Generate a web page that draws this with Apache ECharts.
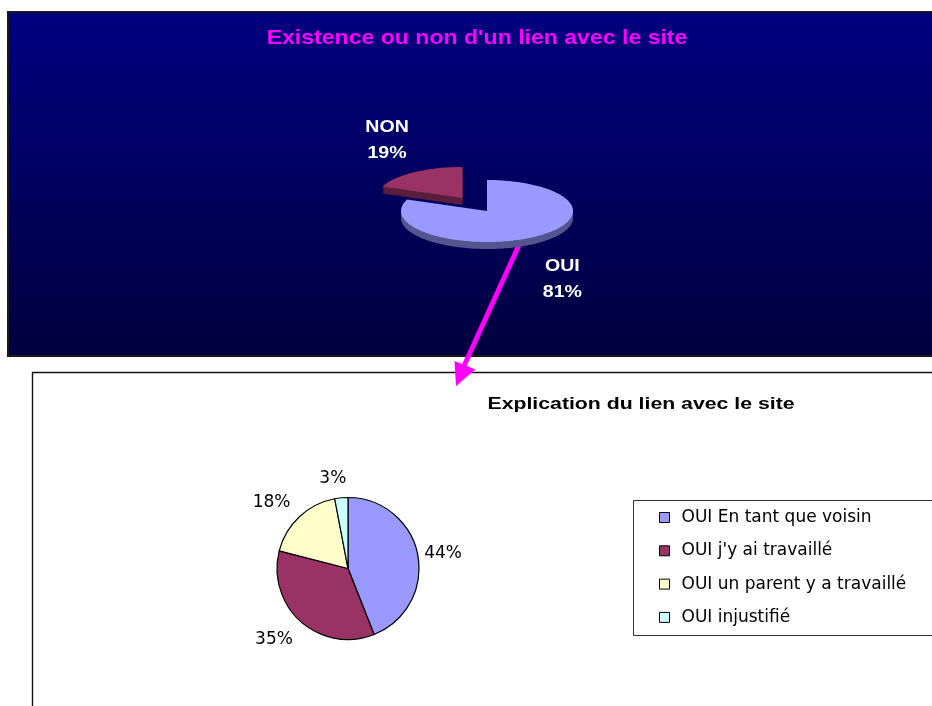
<!DOCTYPE html>
<html>
<head>
<meta charset="utf-8">
<script src="https://cdn.jsdelivr.net/npm/echarts@6/dist/echarts.min.js"></script>
<style>
  html, body { margin: 0; padding: 0; background: #ffffff; overflow: hidden; }
  #chart { width: 932px; height: 706px; }
</style>
</head>
<body>
<div id="chart"></div>
<script>
// Panel 1: is there a link with the site?
const topTitle = "Existence ou non d'un lien avec le site";
const topLabels = ['OUI', 'NON'];
const topValues = [81, 19];

// Panel 2: what kind of link, among the "OUI" answers
const bottomTitle = 'Explication du lien avec le site';
const bottomLabels = [
  'OUI En tant que voisin',
  "OUI j'y ai travaillé",
  'OUI un parent y a travaillé',
  'OUI injustifié'
];
const bottomValues = [44, 35, 18, 3];

// Styling
const topColors = ['#9999FF', '#993366'];
const topSideColors = ['#55558F', '#5A1F3D'];
const bottomColors = ['#9999FF', '#993366', '#FFFFCC', '#CCFFFF'];
const explodedSlice = 'NON';

// Geometry of the tilted pie (ellipse radii, extrusion depth, explode ratio)
const PIE3D = { cx: 487, cy: 211, rx: 86, ry: 31, depth: 7, explode: 0.51, labelRx: 134, labelRy: 76, labelDy: 5 };
// Geometry of the flat pie and where its labels sit
const PIE2D = { cx: 348, cy: 568.5, r: 71, labelR: 84, labelDx: -6, labelDy: 2 };

const sum = arr => arr.reduce((a, b) => a + b, 0);

// Draws one slice of the tilted pie: a stack of darker copies for the thickness,
// the lit top face, and the "name / percent" label.
function renderTiltedSlice(params, api) {
  const i = params.dataIndex;
  const total = sum(topValues);
  let before = 0;
  for (let j = 0; j < i; j++) before += topValues[j];
  const value = api.value(0);
  const a0 = before / total * 2 * Math.PI;
  const a1 = (before + value) / total * 2 * Math.PI;
  const mid = (a0 + a1) / 2;
  const k = topLabels[i] === explodedSlice ? PIE3D.explode : 0;
  const ox = PIE3D.cx + Math.sin(mid) * k * PIE3D.rx;
  const oy = PIE3D.cy - Math.cos(mid) * k * PIE3D.ry;

  const pts = [[ox, oy]];
  const steps = Math.max(8, Math.ceil((a1 - a0) / 0.03));
  for (let s = 0; s <= steps; s++) {
    const a = a0 + (a1 - a0) * s / steps;
    pts.push([ox + Math.sin(a) * PIE3D.rx, oy - Math.cos(a) * PIE3D.ry]);
  }

  const base = topLabels[i] === explodedSlice ? 0 : 20;
  const children = [];
  for (let d = PIE3D.depth; d >= 1; d--) {
    children.push({
      type: 'polygon',
      z2: base,
      shape: { points: pts.map(p => [p[0], p[1] + d]) },
      style: { fill: topSideColors[i] }
    });
  }
  children.push({
    type: 'polygon',
    z2: base + 1,
    shape: { points: pts },
    style: { fill: topColors[i] }
  });
  const pct = Math.round(value / total * 100);
  children.push({
    type: 'text',
    z2: 40,
    x: ox + Math.sin(mid) * PIE3D.labelRx,
    y: oy - Math.cos(mid) * PIE3D.labelRy + PIE3D.labelDy,
    scaleX: 1.15,
    style: {
      text: topLabels[i] + '\n' + pct + '%',
      fill: '#ffffff',
      font: 'bold 17px "Liberation Sans", Arial, sans-serif',
      align: 'center',
      verticalAlign: 'middle',
      lineHeight: 26
    }
  });
  return { type: 'group', children };
}

// Places the flat pie labels just outside each slice, along its mid angle.
function bottomLabelLayout(p) {
  const total = sum(bottomValues);
  let before = 0;
  for (let j = 0; j < p.dataIndex; j++) before += bottomValues[j];
  const mid = (before + bottomValues[p.dataIndex] / 2) / total * 2 * Math.PI;
  const dx = Math.sin(mid);
  const dy = -Math.cos(mid);
  return {
    x: PIE2D.cx + PIE2D.labelDx + dx * PIE2D.labelR + dx * p.labelRect.width / 2,
    y: PIE2D.cy + PIE2D.labelDy + dy * PIE2D.labelR + dy * p.labelRect.height / 2,
    align: 'center',
    verticalAlign: 'middle'
  };
}

const chart = echarts.init(document.getElementById('chart'), null, { renderer: 'canvas' });

chart.setOption({
  backgroundColor: '#ffffff',
  animation: false,
  graphic: [
    // dark upper panel
    {
      type: 'rect',
      z: 0,
      shape: { x: 8, y: 12, width: 940, height: 344 },
      style: {
        fill: {
          type: 'linear', x: 0, y: 0, x2: 0, y2: 1,
          colorStops: [
            { offset: 0, color: '#000080' },
            { offset: 1, color: '#00003E' }
          ]
        },
        stroke: '#1a1a1a',
        lineWidth: 2
      }
    },
    {
      type: 'text',
      z: 1,
      x: 477,
      y: 38,
      scaleX: 1.125,
      style: {
        text: topTitle,
        fill: '#FF00FF',
        font: 'bold 20.5px "Liberation Sans", Arial, sans-serif',
        align: 'center',
        verticalAlign: 'middle'
      }
    },
    // white lower panel
    {
      type: 'rect',
      z: 0,
      shape: { x: 32.5, y: 372.5, width: 1000, height: 400 },
      style: { fill: '#ffffff', stroke: '#111111', lineWidth: 1.4 }
    },
    // arrow from the OUI slice down to the lower panel
    {
      type: 'group',
      z: 5,
      children: [
        {
          type: 'line',
          shape: { x1: 519, y1: 245, x2: 464, y2: 366 },
          style: { stroke: '#FF00FF', lineWidth: 5 }
        },
        {
          type: 'polygon',
          shape: { points: [[454.5, 361], [475.5, 369.5], [456, 386]] },
          style: { fill: '#FF00FF' }
        }
      ]
    },
    {
      type: 'text',
      z: 1,
      x: 641,
      y: 404.5,
      scaleX: 1.25,
      style: {
        text: bottomTitle,
        fill: '#000000',
        font: 'bold 17px "Liberation Sans", Arial, sans-serif',
        align: 'center',
        verticalAlign: 'middle'
      }
    },
    // legend frame
    {
      type: 'rect',
      z: 1,
      shape: { x: 633.5, y: 500.5, width: 400, height: 135 },
      style: { fill: 'none', stroke: '#333333', lineWidth: 1 }
    }
  ],
  legend: {
    orient: 'vertical',
    left: 659,
    top: 508.5,
    padding: 0,
    itemWidth: 10,
    itemHeight: 10,
    itemGap: 15.3,
    icon: 'rect',
    selectedMode: false,
    data: bottomLabels,
    itemStyle: { borderColor: '#000000', borderWidth: 1 },
    textStyle: {
      color: '#000000',
      fontFamily: '"DejaVu Sans", sans-serif',
      fontSize: 17,
      lineHeight: 18,
      padding: [0, 0, 0, 7]
    }
  },
  series: [
    {
      type: 'custom',
      coordinateSystem: 'none',
      silent: true,
      renderItem: renderTiltedSlice,
      data: topValues.map((v, i) => ({ name: topLabels[i], value: [v] }))
    },
    {
      type: 'pie',
      center: [PIE2D.cx, PIE2D.cy],
      radius: PIE2D.r,
      startAngle: 90,
      clockwise: true,
      silent: true,
      avoidLabelOverlap: false,
      data: bottomLabels.map((n, i) => ({
        name: n,
        value: bottomValues[i],
        itemStyle: { color: bottomColors[i] }
      })),
      itemStyle: { borderColor: '#000000', borderWidth: 1.2 },
      label: {
        show: true,
        position: 'outside',
        formatter: p => Math.round(p.percent) + '%',
        color: '#000000',
        fontFamily: '"DejaVu Sans", sans-serif',
        fontSize: 17
      },
      labelLine: { show: false, length: 5, length2: 0 },
      labelLayout: bottomLabelLayout,
      emphasis: { disabled: true }
    }
  ]
});
</script>
</body>
</html>
